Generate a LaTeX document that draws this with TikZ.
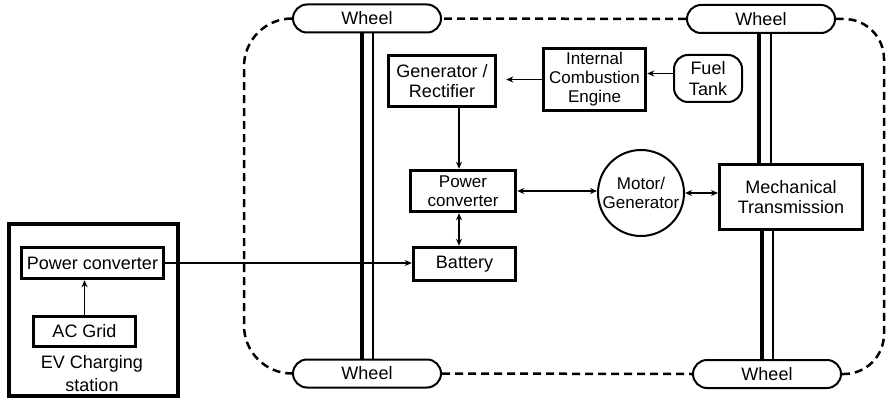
\documentclass[tikz,border=0pt]{standalone}
\usepackage{fontspec}
\setmainfont{Liberation Sans}
\usetikzlibrary{arrows.meta,positioning,calc}
\tikzset{
  % plain boxes with a heavy black border
  blk/.style   = {rectangle, draw, line width=3.5pt, align=center, inner sep=0pt,
                  font=\fontsize{18}{20}\selectfont},
  sblk/.style  = {blk, font=\fontsize{17}{19}\selectfont},
  wheel/.style = {rectangle, rounded corners=14pt, draw, line width=2pt, inner sep=0pt,
                  minimum width=148pt, minimum height=28pt, font=\fontsize{18}{20}\selectfont},
  tank/.style  = {rectangle, rounded corners=14pt, draw, line width=2pt, align=center,
                  inner sep=0pt, font=\fontsize{18}{21}\selectfont},
  motor/.style = {circle, draw, line width=2pt, minimum size=86pt, inner sep=0pt,
                  align=center, font=\fontsize{17}{19}\selectfont},
  lbl/.style   = {align=center, font=\fontsize{18}{23}\selectfont},
  arr/.style   = {-{Stealth[length=7pt,width=6pt]}, line width=1.5pt},
  darr/.style  = {{Stealth[length=7pt,width=6pt]}-{Stealth[length=7pt,width=6pt]}, line width=1.5pt},
  shaft/.style = {line width=3.5pt},
  rim/.style   = {line width=2.5pt, dash pattern=on 8pt off 5pt},
}

\begin{document}
\begin{tikzpicture}[x=1pt,y=-1pt]
\useasboundingbox (0,0) rectangle (886,401);
% wheels
\node[wheel] (wtl) at (367,18.5) {Wheel};
\node[wheel] (wtr) at (761,19) {Wheel};
\node[wheel] (wbl) at (367,373.5) {Wheel};
\node[wheel] (wbr) at (767,374) {Wheel};
% vehicle blocks
\node[blk, minimum width=107pt, minimum height=51pt] (gen) at (442,81) {Generator /\\Rectifier};
\node[sblk, minimum width=102pt, minimum height=62pt] (ice) at (594.5,79.5) {Internal\\Combustion\\Engine};
\node[tank, minimum width=68pt, minimum height=47pt] (fuel) at (708,78.5) {Fuel\\Tank};
\node[sblk, minimum width=105pt, minimum height=41pt] (pc) at (463,191) {Power\\converter};
\node[blk, minimum width=102pt, minimum height=33pt] (bat) at (464.5,264) {Battery};
\node[motor] (mot) at (641,193) {Motor/\\Generator};
\node[blk, line width=3pt, minimum width=143pt, minimum height=65pt] (mech) at (791,197) {Mechanical\\Transmission};
% charging station
\node[draw, line width=4pt, minimum width=169pt, minimum height=172pt] (stn) at (93.5,310) {};
\node[blk, minimum width=142pt, minimum height=31pt] (spc) at (92.5,263) {Power converter};
\node[blk, minimum width=102pt, minimum height=30pt] (grid) at (84.5,331.5) {AC Grid};
\node[lbl] (evlbl) at (92,373.5) {EV Charging\\station};
% dashed body outline
\draw[rim, rounded corners=48pt] (wtl.west) -| (244,200) |- (wbl.west);
\draw[rim] (wbl.east) -- (wbr.west);
\draw[rim, rounded corners=40pt] (wbr.east) -| (884,200) |- (wtr.east);
\draw[rim] (wtr.west) -- (wtl.east);
% axles
\draw[shaft] ([xshift=-5pt]wtl.south) -- ([xshift=-5pt]wbl.north);
\draw[shaft, line width=2.5pt] ([xshift=6pt]wtl.south) -- ([xshift=6pt]wbl.north);
\draw[shaft] ([xshift=-2pt]wtr.south) -- ([xshift=-2pt]wtr.south |- mech.north);
\draw[shaft, line width=2.5pt] ([xshift=10pt]wtr.south) -- ([xshift=10pt]wtr.south |- mech.north);
\draw[shaft] ([xshift=-5pt]wbr.north |- mech.south) -- ([xshift=-5pt]wbr.north);
\draw[shaft, line width=2.5pt] ([xshift=6pt]wbr.north |- mech.south) -- ([xshift=6pt]wbr.north);
% flows
\draw[arr, shorten >=9pt] (ice.west) -- (ice.west -| gen.east);
\draw[arr] ([yshift=5pt]fuel.west) -- ([yshift=5pt]fuel.west -| ice.east);
\draw[arr] ([xshift=-4pt]pc.north |- gen.south) -- ([xshift=-4pt]pc.north);
\draw[darr] ([xshift=-4pt]pc.south) -- ([xshift=-4pt]pc.south |- bat.north);
\draw[darr] (pc.east) -- (pc.east -| mot.west);
\draw[darr] (mot.east) -- (mot.east -| mech.west);
\draw[arr] (grid.north) -- (grid.north |- spc.south);
\draw[arr] (spc.east) -- (spc.east -| bat.west);
\end{tikzpicture}
\end{document}
